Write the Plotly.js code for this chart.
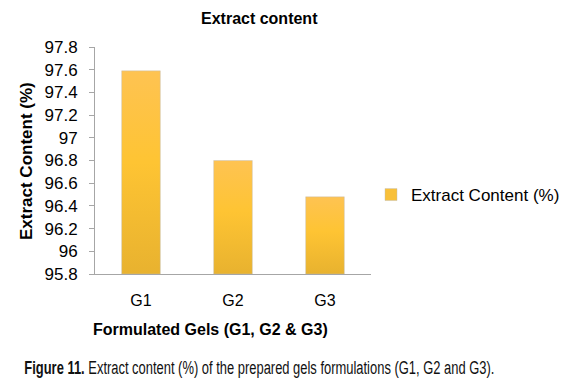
<!DOCTYPE html>
<html>
<head>
<meta charset="utf-8">
<script src="https://cdn.plot.ly/plotly-3.0.1.min.js"></script>
<style>html,body{margin:0;padding:0;background:#fff;}#chart{width:577px;height:390px;}</style>
</head>
<body>
<div id="chart"></div>
<script>
var categories = ["G1", "G2", "G3"];
var extractContent = [97.59, 96.80, 96.48];
var seriesName = "Extract Content (%)";
var yTickValues = [95.8, 96, 96.2, 96.4, 96.6, 96.8, 97, 97.2, 97.4, 97.6, 97.8];
var yTickLabels = ["95.8", "96", "96.2", "96.4", "96.6", "96.8", "97", "97.2", "97.4", "97.6", "97.8"];
var baseline = 95.8;

var font = "Liberation Sans, Arial, sans-serif";
var trace = {
  type: "bar",
  x: categories,
  y: extractContent.map(function(v){ return v - baseline; }),
  base: baseline,
  name: seriesName,
  showlegend: true,
  marker: {color: "#F8C03A", line: {color: "rgba(190,190,190,0.7)", width: 0.6}},
  hoverinfo: "none"
};

var layout = {
  width: 577, height: 390,
  margin: {l: 95, r: 202, t: 47, b: 116},
  paper_bgcolor: "#fff", plot_bgcolor: "#fff",
  bargap: 0.58,
  font: {family: font, color: "#000", size: 16},
  showlegend: true,
  legend: {x: 1.0, xanchor: "left", y: 0.348, yanchor: "middle", font: {family: font, size: 17, color: "#000"}, bgcolor: "rgba(0,0,0,0)"},
  xaxis: {
    type: "category",
    showline: true, linecolor: "#a6a6a6", linewidth: 1,
    ticks: "", showgrid: false, zeroline: false,
    tickfont: {family: font, size: 16, color: "#000"},
    ticklabelstandoff: 12
  },
  yaxis: {
    range: [95.8, 97.8],
    tickmode: "array", tickvals: yTickValues, ticktext: yTickLabels,
    showline: true, linecolor: "#a6a6a6", linewidth: 1,
    ticks: "outside", ticklen: 5, tickcolor: "#a6a6a6",
    showgrid: false, zeroline: false,
    tickfont: {family: font, size: 17, color: "#000"},
    ticklabelstandoff: 8
  },
  annotations: [
    {text: "<b>Extract content</b>", xref: "paper", yref: "paper", x: (261.5-95)/280, y: 1 + (47-18)/227, xanchor: "center", yanchor: "middle", showarrow: false, font: {family: font, size: 16, color: "#000"}},
    {text: "<b>Formulated Gels (G1, G2 &amp; G3)</b>", xref: "paper", yref: "paper", x: (212.5-95)/280, y: -(329-274)/227, xanchor: "center", yanchor: "middle", showarrow: false, font: {family: font, size: 16, color: "#000"}},
    {text: "<b>Extract Content (%)</b>", xref: "paper", yref: "paper", x: -(95-25)/280, y: (274-161)/227, xanchor: "center", yanchor: "middle", textangle: -90, showarrow: false, font: {family: font, size: 17, color: "#000"}},
    {text: "<b>Figure 11.</b> Extract content (%) of the prepared gels formulations (G1, G2 and G3).", xref: "paper", yref: "paper", x: (262-95)/280, y: -(367-274)/227, xanchor: "center", yanchor: "middle", showarrow: false, font: {family: font, size: 19, color: "#111"}}
  ]
};

Plotly.newPlot("chart", [trace], layout, {staticPlot: true, displayModeBar: false}).then(function(gd){
  var svg = gd.querySelector("svg.main-svg");
  var ns = "http://www.w3.org/2000/svg";
  var defs = svg.querySelector("defs") || svg.insertBefore(document.createElementNS(ns, "defs"), svg.firstChild);
  var lg = document.createElementNS(ns, "linearGradient");
  lg.setAttribute("id", "barGrad");
  lg.setAttribute("x1", "0"); lg.setAttribute("y1", "0"); lg.setAttribute("x2", "0"); lg.setAttribute("y2", "1");
  [["0", "#FEC352"], ["0.45", "#FEC433"], ["1", "#E8B22F"]].forEach(function(s){
    var st = document.createElementNS(ns, "stop");
    st.setAttribute("offset", s[0]); st.setAttribute("stop-color", s[1]);
    lg.appendChild(st);
  });
  defs.appendChild(lg);
  gd.querySelectorAll(".bars .point path").forEach(function(p){ p.style.fill = "url(#barGrad)"; });
  var anns = gd.querySelectorAll(".annotation");
  var cap = anns[anns.length - 1].querySelector("text");
  if (cap) {
    var bb = cap.getBBox();
    var target = 470;
    var s = Math.min(1, target / bb.width);
    var cx = bb.x + bb.width / 2;
    cap.setAttribute("transform", "translate(" + cx + ",0) scale(" + s + ",1) translate(" + (-cx) + ",0)");
  }
});
</script>
</body>
</html>
